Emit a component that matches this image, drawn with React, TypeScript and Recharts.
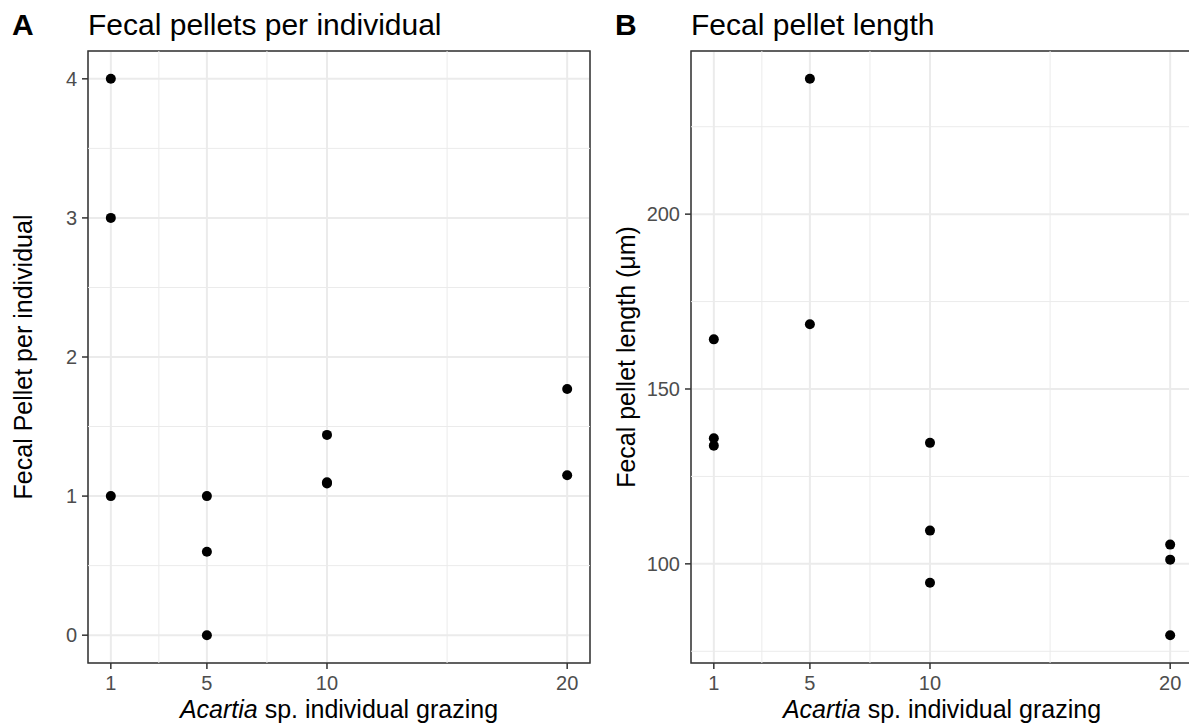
import React from 'react';
import {
  ScatterChart,
  Scatter,
  XAxis,
  YAxis,
  CartesianGrid,
  ReferenceLine,
  ReferenceArea,
  Label,
} from 'recharts';

// ---- data ----
const grazingTicks = [1, 5, 10, 20];
const grazingMinor = [3, 7.5, 15];

const pelletsX = [1, 1, 1, 5, 5, 5, 10, 10, 10, 20, 20];
const pelletsY = [4, 3, 1, 1, 0.6, 0, 1.44, 1.1, 1.09, 1.77, 1.15];
const pelletsTicks = [0, 1, 2, 3, 4];
const pelletsMinor = [0.5, 1.5, 2.5, 3.5];

const lengthX = [1, 1, 1, 5, 5, 10, 10, 10, 20, 20, 20];
const lengthY = [164.2, 135.9, 133.8, 238.7, 168.5, 134.6, 109.5, 94.6, 105.5, 101.2, 79.6];
const lengthTicks = [100, 150, 200];
const lengthMinor = [75, 125, 175, 225];

const panelTitles = ['Fecal pellets per individual', 'Fecal pellet length'];
const panelTags = ['A', 'B'];
const yTitles = ['Fecal Pellet per individual', 'Fecal pellet length (μm)'];

// ---- helpers ----
const expand = (vals: number[]): [number, number] => {
  const mn = Math.min(...vals);
  const mx = Math.max(...vals);
  const pad = (mx - mn) * 0.05;
  return [mn - pad, mx + pad];
};

const FONT = '"Liberation Sans", Arial, Helvetica, sans-serif';
const GRID = '#EBEBEB';
const DARK = '#333333';
const TICKTXT = '#4D4D4D';

const CH_W = 601;
const CH_H = 727;
const MARGIN = { top: 51, right: 11, bottom: 0, left: 0 };
const Y_W = 88;
const X_H = 64;

type PanelProps = {
  xs: number[];
  ys: number[];
  yTicks: number[];
  yMinor: number[];
  yTitle: string;
};

function Panel({ xs, ys, yTicks, yMinor, yTitle }: PanelProps) {
  const data = xs.map((x, i) => ({ x, y: ys[i] }));
  const xDom = expand(xs);
  const yDom = expand(ys);

  const renderX = (props: any) => {
    const vb = props.viewBox || {};
    return (
      <text
        x={vb.x + vb.width / 2}
        y={vb.y + 55}
        textAnchor="middle"
        fontSize={25}
        fill="#000"
        fontFamily={FONT}
      >
        <tspan fontStyle="italic">Acartia</tspan> sp. individual grazing
      </text>
    );
  };

  const renderY = (props: any) => {
    const vb = props.viewBox || {};
    const cx = vb.x + vb.width - 56;
    const cy = vb.y + vb.height / 2;
    return (
      <text
        x={cx}
        y={cy}
        transform={`rotate(-90, ${cx}, ${cy})`}
        textAnchor="middle"
        fontSize={25}
        fill="#000"
        fontFamily={FONT}
      >
        {yTitle}
      </text>
    );
  };

  return (
    <ScatterChart width={CH_W} height={CH_H} margin={MARGIN}>
      <CartesianGrid stroke={GRID} strokeWidth={2} />
      {grazingMinor.map((v) => (
        <ReferenceLine key={'vx' + v} x={v} stroke={GRID} strokeWidth={1} />
      ))}
      {yMinor.map((v) => (
        <ReferenceLine key={'hy' + v} y={v} stroke={GRID} strokeWidth={1} />
      ))}
      <XAxis
        type="number"
        dataKey="x"
        domain={xDom}
        ticks={grazingTicks}
        interval={0}
        allowDataOverflow
        height={X_H}
        axisLine={false}
        tickLine={{ stroke: DARK, strokeWidth: 1.5 }}
        tickSize={6}
        tickMargin={7}
        tick={{ fill: TICKTXT, fontSize: 20, fontFamily: FONT }}
      >
        <Label content={renderX} />
      </XAxis>
      <YAxis
        type="number"
        dataKey="y"
        domain={yDom}
        ticks={yTicks}
        interval={0}
        allowDataOverflow
        width={Y_W}
        axisLine={false}
        tickLine={{ stroke: DARK, strokeWidth: 1.5 }}
        tickSize={6}
        tickMargin={5}
        tick={{ fill: TICKTXT, fontSize: 20, fontFamily: FONT }}
      >
        <Label content={renderY} />
      </YAxis>
      <ReferenceArea
        x1={xDom[0]}
        x2={xDom[1]}
        y1={yDom[0]}
        y2={yDom[1]}
        fill="none"
        fillOpacity={0}
        stroke={DARK}
        strokeWidth={1.5}
      />
      <Scatter
        data={data}
        isAnimationActive={false}
        fill="#000"
        shape={(p: any) => <circle cx={p.cx} cy={p.cy} r={5} fill="#000" />}
      />
    </ScatterChart>
  );
}

export default function App() {
  return (
    <div
      style={{
        position: 'fixed',
        left: 0,
        top: 0,
        width: 1189,
        height: 727,
        overflow: 'hidden',
        background: '#fff',
        fontFamily: FONT,
      }}
    >
      <div style={{ position: 'absolute', left: 0, top: 0 }}>
        <Panel
          xs={pelletsX}
          ys={pelletsY}
          yTicks={pelletsTicks}
          yMinor={pelletsMinor}
          yTitle={yTitles[0]}
        />
      </div>
      <div style={{ position: 'absolute', left: 603, top: 0 }}>
        <Panel
          xs={lengthX}
          ys={lengthY}
          yTicks={lengthTicks}
          yMinor={lengthMinor}
          yTitle={yTitles[1]}
        />
      </div>
      <svg
        width={1189}
        height={727}
        style={{ position: 'absolute', left: 0, top: 0, pointerEvents: 'none' }}
      >
        <text x={12} y={35} fontSize={30} fontWeight="bold" fill="#000" fontFamily={FONT}>
          {panelTags[0]}
        </text>
        <text x={88} y={35} fontSize={30} fill="#000" fontFamily={FONT}>
          {panelTitles[0]}
        </text>
        <text x={615} y={35} fontSize={30} fontWeight="bold" fill="#000" fontFamily={FONT}>
          {panelTags[1]}
        </text>
        <text x={691} y={35} fontSize={30} fill="#000" fontFamily={FONT}>
          {panelTitles[1]}
        </text>
      </svg>
    </div>
  );
}
